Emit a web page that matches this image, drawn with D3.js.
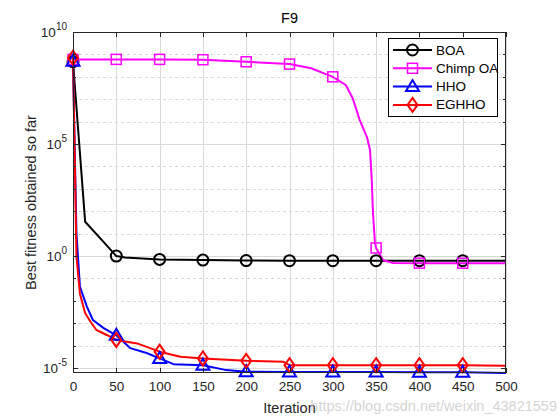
<!DOCTYPE html>
<html>
<head>
<meta charset="utf-8">
<script src="https://cdn.jsdelivr.net/npm/d3@7"></script>
<style>
  html, body { margin: 0; padding: 0; background: #fff; }
  svg { display: block; font-family: "Liberation Sans", Arial, Helvetica, sans-serif; }
</style>
</head>
<body>
<svg id="chart" width="560" height="420"></svg>
<script>
// ---- data ----
const chartTitle = "F9";
const xLabel = "Iteration";
const yLabel = "Best fitness obtained so far";
const seriesNames = ["BOA", "Chimp OA", "HHO", "EGHHO"];
const xTicks = [0, 50, 100, 150, 200, 250, 300, 350, 400, 450, 500];
const yTickExponents = [-5, 0, 5, 10];

const boaIter = [0, 14, 35, 50, 60, 100, 150, 200, 250, 300, 350, 400, 450, 500];
const boaVals = [4.7e8, 34, 4.4, 1.0, 0.87, 0.71, 0.66, 0.63, 0.62, 0.62, 0.62, 0.62, 0.62, 0.62];

const chimpIter = [0, 50, 100, 150, 200, 250, 275, 300, 315, 323, 331, 339.5, 343, 345, 346.4, 348.7, 350, 358, 369.5, 400, 450, 500];
const chimpVals = [6.0e8, 6.0e8, 6.0e8, 5.8e8, 4.7e8, 3.7e8, 2.4e8, 1.0e8, 4.3e7, 1.1e7, 1.2e6, 2.0e5, 5.4e4, 2.5e3, 83, 3.8, 2.3, 0.66, 0.49, 0.48, 0.48, 0.48];

const hhoIter = [0, 4, 8, 16, 23, 35, 50, 66, 85, 100, 116, 150, 177, 200, 250, 300, 350, 400, 450, 500];
const hhoVals = [5.0e8, 10, 0.043, 5.5e-3, 1.4e-3, 6.2e-4, 2.9e-4, 7.8e-5, 4.7e-5, 2.7e-5, 1.5e-5, 1.35e-5, 8.1e-6, 6.8e-6, 6.7e-6, 6.6e-6, 6.6e-6, 6.5e-6, 6.5e-6, 6.0e-6];

const eghhoIter = [0, 4, 8, 14, 20, 27, 39, 50, 74, 100, 124, 150, 200, 243, 250, 300, 350, 400, 450, 500];
const eghhoVals = [7.1e8, 0.93, 0.021, 2.9e-3, 1.2e-3, 5.0e-4, 3.0e-4, 1.8e-4, 1.26e-4, 5.4e-5, 3.2e-5, 2.7e-5, 2.1e-5, 1.9e-5, 1.35e-5, 1.35e-5, 1.35e-5, 1.35e-5, 1.35e-5, 1.26e-5];

const seriesColors = ["#000000", "#ff00ff", "#0000ff", "#ff0000"];
const seriesMarkers = ["circle", "square", "triangle", "diamond"];

// ---- layout ----
const svg = d3.select("#chart");
const L = 73, R = 506, T = 32, B = 373;
const x = d3.scaleLinear().domain([0, 500]).range([L, R]);
const y = d3.scaleLog().domain([Math.pow(10, -5.22), 1e10]).range([B, T]);

const axisColor = "#262626";
const series = [
  { name: seriesNames[0], iter: boaIter, vals: boaVals },
  { name: seriesNames[1], iter: chimpIter, vals: chimpVals },
  { name: seriesNames[2], iter: hhoIter, vals: hhoVals },
  { name: seriesNames[3], iter: eghhoIter, vals: eghhoVals }
].map((s, i) => ({ ...s, color: seriesColors[i], marker: seriesMarkers[i],
   pts: s.iter.map((it, j) => ({ it, v: s.vals[j] })) }));

svg.append("rect").attr("width", 560).attr("height", 420).attr("fill", "#fff");
svg.append("rect").attr("x", L).attr("y", T).attr("width", R - L).attr("height", B - T).attr("fill", "#fff");

const grid = svg.append("g");
const decades = d3.range(-5, 11);
decades.filter(e => !yTickExponents.includes(e)).forEach(e => {
  const yy = Math.round(y(Math.pow(10, e))) + 0.5;
  grid.append("line").attr("x1", L).attr("x2", R).attr("y1", yy).attr("y2", yy)
    .attr("stroke", "#d9d9d9").attr("stroke-width", 1).attr("stroke-dasharray", "3,3");
});
yTickExponents.forEach(e => {
  const yy = Math.round(y(Math.pow(10, e))) + 0.5;
  grid.append("line").attr("x1", L).attr("x2", R).attr("y1", yy).attr("y2", yy)
    .attr("stroke", "#d9d9d9").attr("stroke-width", 1);
});
xTicks.forEach(t => {
  const xx = Math.round(x(t)) + 0.5;
  grid.append("line").attr("x1", xx).attr("x2", xx).attr("y1", T).attr("y2", B)
    .attr("stroke", "#d9d9d9").attr("stroke-width", 1);
});

// lines
const line = d3.line().x(d => x(d.it)).y(d => y(d.v));
const plotG = svg.append("g");
series.forEach(s => {
  plotG.append("path").datum(s.pts).attr("d", line).attr("fill", "none")
    .attr("stroke", s.color).attr("stroke-width", 2).attr("stroke-linejoin", "round");
});

function drawMarker(g, type, cx, cy, color) {
  if (type === "circle") {
    g.append("circle").attr("cx", cx).attr("cy", cy).attr("r", 5.5)
      .attr("fill", "none").attr("stroke", color).attr("stroke-width", 2);
  } else if (type === "square") {
    g.append("rect").attr("x", cx - 5).attr("y", cy - 5).attr("width", 10).attr("height", 10)
      .attr("fill", "none").attr("stroke", color).attr("stroke-width", 1.5);
  } else if (type === "triangle") {
    g.append("path").attr("d", `M${cx},${cy - 6.5}L${cx + 6.5},${cy + 4.5}L${cx - 6.5},${cy + 4.5}Z`)
      .attr("fill", "none").attr("stroke", color).attr("stroke-width", 2);
  } else if (type === "diamond") {
    g.append("path").attr("d", `M${cx},${cy - 7}L${cx + 5},${cy}L${cx},${cy + 7}L${cx - 5},${cy}Z`)
      .attr("fill", "none").attr("stroke", color).attr("stroke-width", 2);
  }
}
series.forEach(s => {
  const mg = plotG.append("g");
  s.pts.filter(d => d.it % 50 === 0 && d.it < 500)
    .forEach(d => drawMarker(mg, s.marker, x(d.it), y(d.v), s.color));
});

// axes box
svg.append("rect").attr("x", L + 0.5).attr("y", T + 0.5).attr("width", R - L - 1).attr("height", B - T - 1)
  .attr("fill", "none").attr("stroke", axisColor).attr("stroke-width", 1);

const ticks = svg.append("g").attr("stroke", axisColor).attr("stroke-width", 1);
xTicks.forEach(t => {
  const xx = Math.round(x(t)) + 0.5;
  ticks.append("line").attr("x1", xx).attr("x2", xx).attr("y1", B).attr("y2", B - 5);
  ticks.append("line").attr("x1", xx).attr("x2", xx).attr("y1", T).attr("y2", T + 5);
});
decades.forEach(e => {
  const yy = Math.round(y(Math.pow(10, e))) + 0.5;
  const len = yTickExponents.includes(e) ? 5 : 3;
  ticks.append("line").attr("x1", L).attr("x2", L + len).attr("y1", yy).attr("y2", yy);
  ticks.append("line").attr("x1", R).attr("x2", R - len).attr("y1", yy).attr("y2", yy);
});

// tick labels
const xAxisG = svg.append("g").attr("transform", `translate(0,${B})`)
  .call(d3.axisBottom(x).tickValues(xTicks).tickSize(0).tickPadding(8).tickFormat(d3.format("d")));
xAxisG.select(".domain").remove();
xAxisG.selectAll("text").attr("font-size", 13.5).attr("fill", axisColor)
  .attr("font-family", "Liberation Sans, Arial, sans-serif");

yTickExponents.forEach(e => {
  const t = svg.append("text").attr("x", 67).attr("y", y(Math.pow(10, e)) + 5)
    .attr("text-anchor", "end").attr("fill", axisColor).attr("font-size", 13.5);
  t.append("tspan").text("10");
  t.append("tspan").attr("dy", -7).attr("font-size", 10).text(String(e));
});

// titles
svg.append("text").attr("x", (L + R) / 2).attr("y", 23).attr("text-anchor", "middle")
  .attr("font-size", 14.5).attr("fill", "#000").text(chartTitle);
svg.append("text").attr("x", (L + R) / 2).attr("y", 413).attr("text-anchor", "middle")
  .attr("font-size", 14.5).attr("fill", axisColor).text(xLabel);
svg.append("text").attr("transform", `translate(36,${(T + B) / 2}) rotate(-90)`)
  .attr("text-anchor", "middle").attr("font-size", 14.5).attr("fill", axisColor).text(yLabel);

// legend
const lg = svg.append("g");
const lx = 388, ly = 38, lw = 109, lh = 78;
lg.append("rect").attr("x", lx + 0.5).attr("y", ly + 0.5).attr("width", lw).attr("height", lh)
  .attr("fill", "#fff").attr("stroke", "#000").attr("stroke-width", 1);
series.forEach((s, i) => {
  const yy = ly + 12 + i * 18.3;
  lg.append("line").attr("x1", lx + 5).attr("x2", lx + 44).attr("y1", yy).attr("y2", yy)
    .attr("stroke", s.color).attr("stroke-width", 2);
  drawMarker(lg, s.marker, lx + 24.5, yy, s.color);
  lg.append("text").attr("x", lx + 48).attr("y", yy + 4.5).attr("font-size", 13.5)
    .attr("fill", "#000").text(s.name);
});

// watermark (semi-transparent overlay, as in the reference image)
svg.append("text").attr("x", 557).attr("y", 411).attr("text-anchor", "end")
  .attr("font-size", 14.5).attr("fill", "#c4c4c4").attr("opacity", 0.7)
  .text("https://blog.csdn.net/weixin_43821559");
</script>
</body>
</html>
